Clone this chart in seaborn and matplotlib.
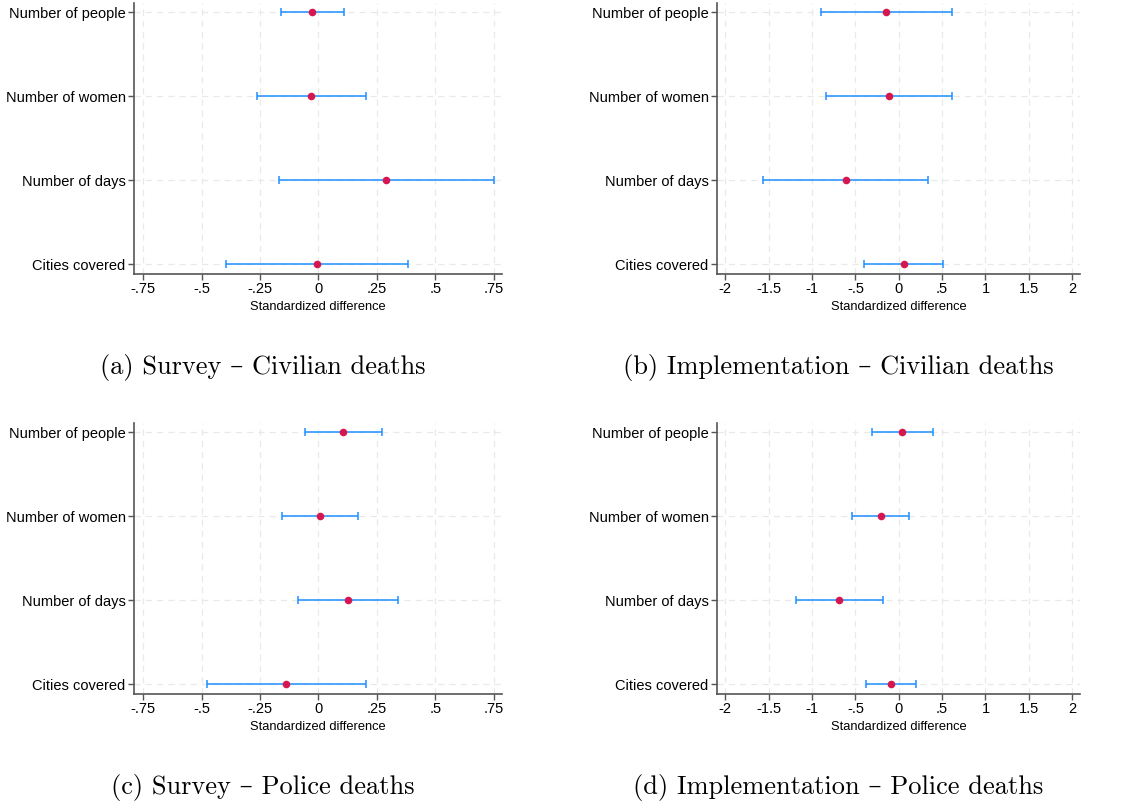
import numpy as np
import pandas as pd
import seaborn as sns
import matplotlib
matplotlib.use("Agg")
import matplotlib.pyplot as plt

sns.set_theme(style="white")
plt.rcParams['font.family'] = ['Liberation Sans', 'DejaVu Sans']
plt.rcParams['text.color'] = 'black'
plt.rcParams['axes.labelcolor'] = 'black'
plt.rcParams['xtick.color'] = 'black'
plt.rcParams['ytick.color'] = 'black'

# ---------------- data ----------------
variables = ["Number of people", "Number of women", "Number of days", "Cities covered"]

# (a) Survey - Civilian deaths
a_est = [-0.026, -0.031, 0.291, -0.007]
a_lo = [-0.160, -0.264, -0.168, -0.397]
a_hi = [0.111, 0.203, 0.750, 0.383]

# (b) Implementation - Civilian deaths
b_est = [-0.143, -0.108, -0.611, 0.058]
b_lo = [-0.893, -0.835, -1.569, -0.400]
b_hi = [0.611, 0.618, 0.342, 0.515]

# (c) Survey - Police deaths
c_est = [0.104, 0.007, 0.127, -0.137]
c_lo = [-0.058, -0.156, -0.088, -0.476]
c_hi = [0.270, 0.169, 0.342, 0.203]

# (d) Implementation - Police deaths
d_est = [0.038, -0.208, -0.685, -0.089]
d_lo = [-0.312, -0.539, -1.188, -0.374]
d_hi = [0.396, 0.123, -0.177, 0.196]

survey_ticks = [-0.75, -0.5, -0.25, 0, 0.25, 0.5, 0.75]
survey_labels = ["-.75", "-.5", "-.25", "0", ".25", ".5", ".75"]
impl_ticks = [-2, -1.5, -1, -0.5, 0, 0.5, 1, 1.5, 2]
impl_labels = ["-2", "-1.5", "-1", "-.5", "0", ".5", "1", "1.5", "2"]

captions = ["(a) Survey \u2013 Civilian deaths",
            "(b) Implementation \u2013 Civilian deaths",
            "(c) Survey \u2013 Police deaths",
            "(d) Implementation \u2013 Police deaths"]
xlabel = "Standardized difference"

# ---------------- styling ----------------
W, H = 1127, 805
LINE_C = "#1E90FF"
PT_C = "#D6174F"
GRID_C = "#e9e9e9"
SPINE_C = "#555555"

fig = plt.figure(figsize=(W / 100, H / 100), dpi=100)

def ax_rect(left, right, top, bottom):
    return [left / W, 1 - bottom / H, (right - left) / W, (bottom - top) / H]

rects = [ax_rect(134, 502, 3, 274), ax_rect(717, 1080, 3, 274),
         ax_rect(134, 502, 423, 694), ax_rect(717, 1080, 423, 694)]
panels = [(a_est, a_lo, a_hi, survey_ticks, survey_labels, (-0.79, 0.786)),
          (b_est, b_lo, b_hi, impl_ticks, impl_labels, (-2.096, 2.09)),
          (c_est, c_lo, c_hi, survey_ticks, survey_labels, (-0.79, 0.786)),
          (d_est, d_lo, d_hi, impl_ticks, impl_labels, (-2.096, 2.09))]
cap_pos = [(263, 367), (838, 367), (263, 787), (838, 787)]

for i, (rect, (est, lo, hi, ticks, tlabels, xlim)) in enumerate(zip(rects, panels)):
    ax = fig.add_axes(rect)
    df = pd.DataFrame({"var": variables, "est": est, "lo": lo, "hi": hi,
                       "pos": np.arange(len(variables))})
    # grid
    for t in ticks:
        ax.axvline(t, color=GRID_C, lw=0.9, ls=(0, (5, 4)), zorder=0)
    for p in df["pos"]:
        ax.axhline(p, color=GRID_C, lw=0.9, ls=(0, (5, 4)), zorder=0)
    # CIs
    ax.errorbar(df["est"], df["pos"],
                xerr=[df["est"] - df["lo"], df["hi"] - df["est"]],
                fmt="none", ecolor=LINE_C, elinewidth=1.1, capsize=2.6,
                capthick=1.1, zorder=2)
    sns.scatterplot(data=df, x="est", y="pos", color=PT_C, s=30,
                    edgecolor=PT_C, linewidth=0, zorder=3, ax=ax, legend=False)
    ax.set_xlim(*xlim)
    ax.set_ylim(3.115, -0.111)
    ax.set_yticks(df["pos"])
    ax.set_yticklabels(variables)
    ax.set_xticks(ticks)
    ax.set_xticklabels(tlabels)
    ax.set_xlabel(xlabel, fontsize=9.3, labelpad=3)
    ax.set_ylabel("")
    ax.tick_params(axis="both", which="major", labelsize=10.5, length=4,
                   width=1.0, color=SPINE_C, labelcolor="black",
                   direction="out", pad=2, left=True, bottom=True)
    for s in ["top", "right"]:
        ax.spines[s].set_visible(False)
    for s in ["left", "bottom"]:
        ax.spines[s].set_color(SPINE_C)
        ax.spines[s].set_linewidth(1.2)
    ax.set_facecolor("white")
    cx, cy = cap_pos[i]
    fig.text(cx / W, 1 - cy / H, captions[i], ha="center", va="center",
             fontsize=19.0, color="black", family=["cmr10", "DejaVu Serif"])

fig.savefig("out.png", dpi=100, facecolor="white")
